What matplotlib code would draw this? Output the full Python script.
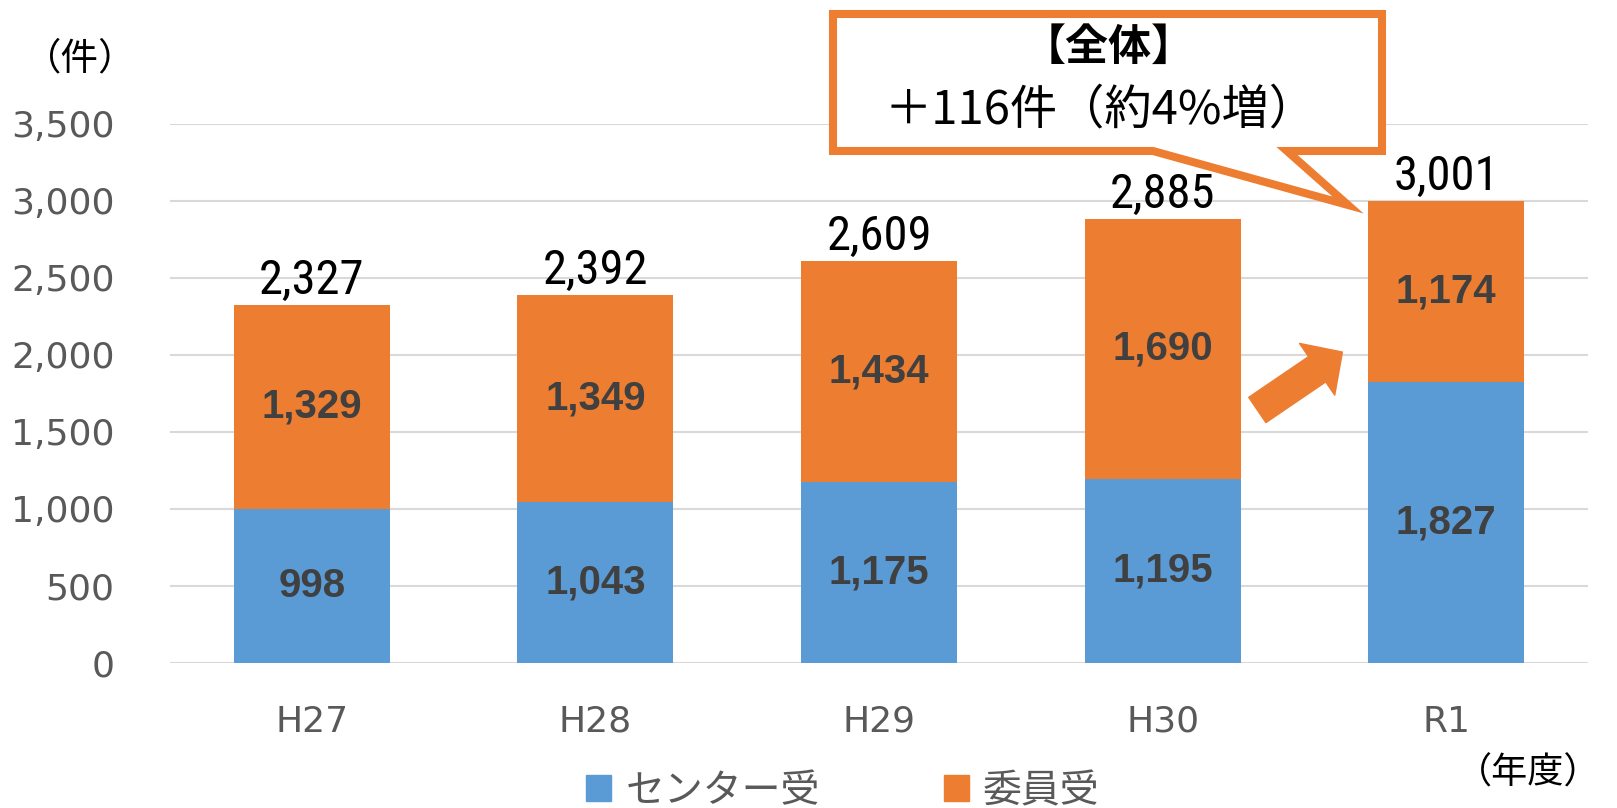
import matplotlib.pyplot as plt
import numpy as np
from matplotlib import font_manager as fm
from matplotlib.patches import Polygon, FancyArrowPatch, Patch

# data
years = ["H27", "H28", "H29", "H30", "R1"]
center = [998, 1043, 1175, 1195, 1827]
member = [1329, 1349, 1434, 1690, 1174]
totals = [2327, 2392, 2609, 2885, 3001]
yticks = [0, 500, 1000, 1500, 2000, 2500, 3000, 3500]

BLUE = "#5B9BD5"
ORANGE = "#ED7D31"
GRAY = "#595959"
JP = ["DejaVu Sans", "Noto Sans CJK JP"]
CJK = ["Noto Sans CJK JP", "DejaVu Sans"]

# narrow font for the totals if one is installed
names = {f.name for f in fm.fontManager.ttflist}
total_font, total_size = ["Noto Sans CJK JP", "DejaVu Sans"], 33
for nm, sz in [("Liberation Sans Narrow", 37), ("Roboto Condensed", 35)]:
    if nm in names:
        total_font, total_size = [nm, "DejaVu Sans"], sz
        break

W, H = 1617, 808
fig = plt.figure(figsize=(W / 100, H / 100), dpi=100)
ax = fig.add_axes([170 / W, 1 - 663 / H, (1588 - 170) / W, (663 - 124) / H])

x = np.arange(len(years))
ax.bar(x, center, width=0.55, color=BLUE, zorder=3)
ax.bar(x, member, width=0.55, bottom=center, color=ORANGE, zorder=3)

for i in range(len(years)):
    ax.text(x[i], center[i] / 2, f"{center[i]:,}", ha="center", va="center",
            fontsize=29, fontweight="bold", color="#404040",
            family=["Liberation Sans", "DejaVu Sans"], zorder=4)
    ax.text(x[i], center[i] + member[i] / 2, f"{member[i]:,}", ha="center", va="center",
            fontsize=29, fontweight="bold", color="#404040",
            family=["Liberation Sans", "DejaVu Sans"], zorder=4)
    ax.annotate(f"{totals[i]:,}", (x[i], totals[i]), xytext=(0, 8), textcoords="offset points",
                ha="center", va="baseline", fontsize=total_size, color="black",
                family=total_font, zorder=4)

ax.set_xlim(-0.5, len(years) - 0.5)
ax.set_ylim(0, 3500)
ax.set_yticks(yticks)
ax.set_yticklabels([f"{v:,}" for v in yticks])
ax.set_xticks(x)
ax.set_xticklabels(years)
ax.tick_params(axis="y", length=0, pad=40, labelsize=26, labelcolor=GRAY)
ax.tick_params(axis="x", length=0, pad=30, labelsize=26, labelcolor=GRAY)
for lab in ax.get_xticklabels() + ax.get_yticklabels():
    lab.set_family(JP)
ax.grid(axis="y", color="#D9D9D9", linewidth=1.5, zorder=0)
for s in ax.spines.values():
    s.set_visible(False)

# unit labels
fig.text(80 / W, 1 - 59 / H, "（件）", ha="center", va="center", fontsize=27,
         family=CJK, color="black")
fig.text(1600 / W, 1 - 774 / H, "（年度）", ha="right", va="center", fontsize=26,
         family=CJK, color="black")

# legend
handles = [Patch(color=BLUE), Patch(color=ORANGE)]
fig.legend(handles, ["センター受", "委員受"], loc="center",
           bbox_to_anchor=(843 / W, 1 - 791 / H), ncol=2, frameon=False,
           prop={"family": CJK, "size": 28}, labelcolor=GRAY,
           handlelength=0.64, handleheight=0.64, handletextpad=0.36,
           columnspacing=3.2, borderpad=0.1)

# growth arrow
arrow = FancyArrowPatch((3.334, 1643), (3.634, 2019),
                        arrowstyle="simple,head_length=22,head_width=45,tail_width=22",
                        mutation_scale=1, color=ORANGE, shrinkA=0, shrinkB=0, zorder=5)
ax.add_patch(arrow)

# callout box
pts = [(833, 14), (1382, 14), (1382, 151), (1287, 151), (1348, 205), (1153, 151), (833, 151)]
poly = Polygon([(px / W, 1 - py / H) for px, py in pts], closed=True, transform=fig.transFigure,
               facecolor="white", edgecolor=ORANGE, linewidth=5.8, joinstyle="miter", zorder=10)
fig.patches.append(poly)
fig.text(1109 / W, 1 - 47 / H, "【全体】", ha="center", va="center", fontsize=31,
         fontweight="bold", family=CJK, color="black", zorder=11)
fig.text(1101 / W, 1 - 110 / H, "＋116件（約4%増）", ha="center", va="center", fontsize=34,
         family=CJK, color="black", zorder=11)

fig.savefig("out.png", dpi=100)
